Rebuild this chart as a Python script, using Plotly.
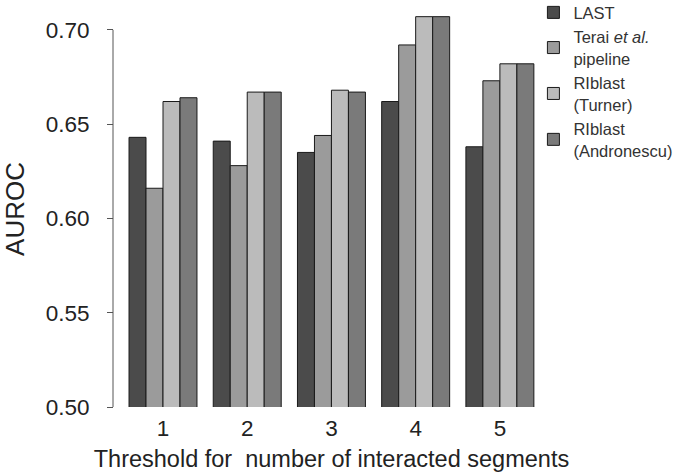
import plotly.graph_objects as go

thresholds = [1, 2, 3, 4, 5]
last_vals = [0.643, 0.641, 0.635, 0.662, 0.638]
terai_vals = [0.616, 0.628, 0.644, 0.692, 0.673]
turner_vals = [0.662, 0.667, 0.668, 0.707, 0.682]
andronescu_vals = [0.664, 0.667, 0.667, 0.707, 0.682]

series_names = ["LAST", "Terai <i>et al.</i><br>pipeline", "RIblast<br>(Turner)", "RIblast<br>(Andronescu)"]
series_vals = [last_vals, terai_vals, turner_vals, andronescu_vals]
colors = ["#4b4b4b", "#9b9b9b", "#bbbbbb", "#7a7a7a"]

y_ticks = [0.50, 0.55, 0.60, 0.65, 0.70]

fig = go.Figure()
for i, (name, vals, col) in enumerate(zip(series_names, series_vals, colors)):
    fig.add_trace(go.Bar(
        x=thresholds, y=vals, name=name,
        marker=dict(color=col, line=dict(color="#1a1a1a", width=1)),
    ))

FONT = "Liberation Sans, Arial, sans-serif"

fig.update_layout(
    width=680, height=474,
    margin=dict(l=113, r=138, t=11, b=67, autoexpand=False),
    paper_bgcolor="white", plot_bgcolor="white",
    barmode="group", bargap=0.193, bargroupgap=0,
    font=dict(family=FONT, color="#222222"),
    showlegend=True,
    legend=dict(x=0.98, y=1.04, xanchor="left", yanchor="top",
                font=dict(size=16.5, color="#333333", family=FONT),
                valign="middle", itemwidth=30, traceorder="normal",
                bgcolor="rgba(0,0,0,0)"),
    xaxis=dict(domain=[0.0184, 1], range=[0.5, 5.5], tickvals=thresholds,
               ticktext=[str(t) for t in thresholds], showline=False, ticks="",
               showgrid=False, zeroline=False, tickfont=dict(size=22.5, color="#222222"),
               ticklabelstandoff=5,
               title=dict(text="Threshold for  number of interacted segments",
                          font=dict(size=23.5, color="#222222"), standoff=11)),
    yaxis=dict(range=[0.5, 0.71], tickvals=y_ticks, ticktext=[f"{v:.2f}" for v in y_ticks],
               anchor="free", position=0, showline=False, ticks="outside",
               ticklen=6, tickcolor="#555555", tickwidth=1, showgrid=False, zeroline=False,
               ticklabelstandoff=13,
               tickfont=dict(size=22.5, color="#222222"),
               title=dict(text="AUROC", font=dict(size=26, color="#222222"), standoff=15)),
)

fig.add_shape(type="line", xref="paper", yref="y", x0=0, x1=0, y0=0.5, y1=0.7,
              line=dict(color="#555555", width=1))

fig.write_html("out.html", config={"displayModeBar": False},
               post_script="document.body.style.margin='0';")
